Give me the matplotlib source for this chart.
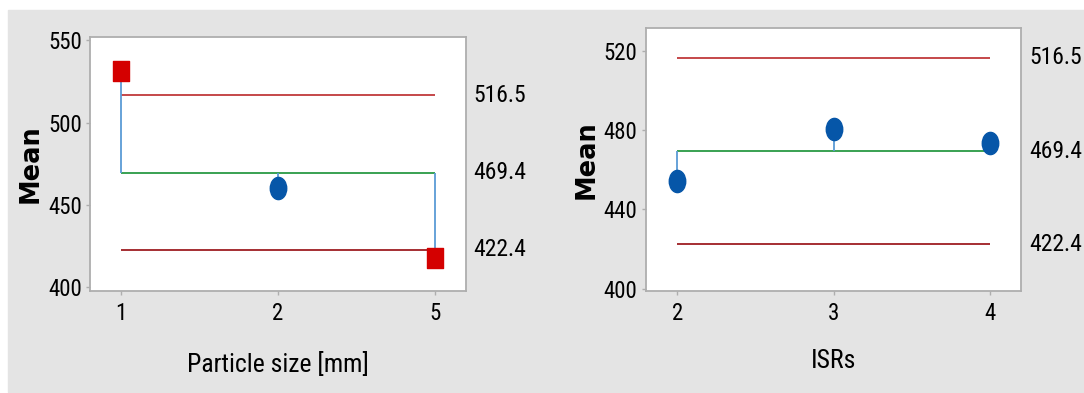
import matplotlib
matplotlib.use("Agg")
import matplotlib.pyplot as plt
from matplotlib import font_manager
from matplotlib.patches import Rectangle
from matplotlib.path import Path
from matplotlib.transforms import Affine2D, blended_transform_factory

# ---- data ----
size_labels = ['1', '2', '5']
size_means = [531.2, 459.9, 417.6]
isr_labels = ['2', '3', '4']
isr_means = [454.2, 480.6, 473.4]

center = 469.4
upper = 516.5
lower = 422.4
limit_labels = ['516.5', '469.4', '422.4']

size_yticks = [400, 450, 500, 550]
isr_yticks = [400, 440, 480, 520]

# ---- fonts ----
names = {f.name for f in font_manager.fontManager.ttflist}
narrow = 'Liberation Sans'
for cand in ['Roboto Condensed', 'Open Sans Condensed', 'Noto Sans Condensed',
             'Asap Condensed', 'Archivo Narrow', 'Barlow Condensed']:
    if cand in names:
        narrow = cand
        break

# ---- styles ----
BG = '#e4e4e4'
SPINE = '#aeaeae'
RED_UP = '#c0393b'
RED_LO = '#9e1e22'
GREEN = '#2a9a44'
STEM = '#5b9bd5'
BLUE = '#0656a8'
RED_MK = '#d40000'

ellipse = Path.unit_circle().transformed(Affine2D().scale(0.74, 1.0))
tall_sq = Path([(-0.37, -0.5), (0.37, -0.5), (0.37, 0.5), (-0.37, 0.5), (-0.37, -0.5)],
               [Path.MOVETO, Path.LINETO, Path.LINETO, Path.LINETO, Path.CLOSEPOLY])


def anom_panel(ax, labels, means, yticks, ylim, xlabel, xlabel_y):
    x = list(range(len(labels)))
    ax.hlines(upper, x[0], x[-1], color=RED_UP, lw=1.3, zorder=2)
    ax.hlines(lower, x[0], x[-1], color=RED_LO, lw=1.3, zorder=2)
    ax.hlines(center, x[0], x[-1], color=GREEN, lw=1.3, zorder=2)
    ax.vlines(x, center, means, color=STEM, lw=1.3, zorder=3)
    for xi, m in zip(x, means):
        if m > upper or m < lower:
            ax.plot(xi, m, marker=tall_sq, ms=15, color=RED_MK, mec=RED_MK, zorder=4)
        else:
            ax.plot(xi, m, marker=ellipse, ms=16, color=BLUE, mec=BLUE, zorder=4)

    ax.set_xlim(-0.2, len(labels) - 0.8)
    ax.set_ylim(*ylim)
    ax.set_xticks(x)
    ax.set_xticklabels(labels)
    ax.set_yticks(yticks)
    for s in ax.spines.values():
        s.set_color(SPINE)
        s.set_linewidth(1.3)
    ax.tick_params(direction='out', length=3, width=1, color=SPINE, labelsize=16.5, pad=3)
    ax.tick_params(axis='x', pad=5)
    for t in ax.get_xticklabels() + ax.get_yticklabels():
        t.set_fontfamily([narrow, 'DejaVu Sans'])

    tr = blended_transform_factory(ax.transAxes, ax.transData)
    for val, lab in zip([upper, center, lower], limit_labels):
        ax.text(1.02, val, lab, transform=tr, ha='left', va='center',
                fontsize=17, family=[narrow, 'DejaVu Sans'])

    ax.set_ylabel('Mean', fontsize=18.5, fontweight='bold', family='DejaVu Sans')
    ax.yaxis.set_label_coords(-0.157, 0.5)
    ax.yaxis.label.set_va('center')
    ax.set_xlabel(xlabel, fontsize=18.5, family=[narrow, 'DejaVu Sans'])
    ax.xaxis.set_label_coords(0.5, xlabel_y)
    ax.xaxis.label.set_va('center')


fig = plt.figure(figsize=(10.84, 3.93), dpi=100)
fig.patches.append(Rectangle((8 / 1084, 1 - 392 / 393), 1076 / 1084, 382 / 393,
                             transform=fig.transFigure, color=BG, zorder=-10))

ax1 = fig.add_axes([0.0830, 0.2595, 0.3469, 0.6463])
ax2 = fig.add_axes([0.5958, 0.2595, 0.3464, 0.6684])

anom_panel(ax1, size_labels, size_means, size_yticks, (397.3, 552.1),
           'Particle size [mm]', -0.29)
anom_panel(ax2, isr_labels, isr_means, isr_yticks, (398.8, 531.3),
           'ISRs', -0.265)

fig.savefig('out.png', dpi=100)
